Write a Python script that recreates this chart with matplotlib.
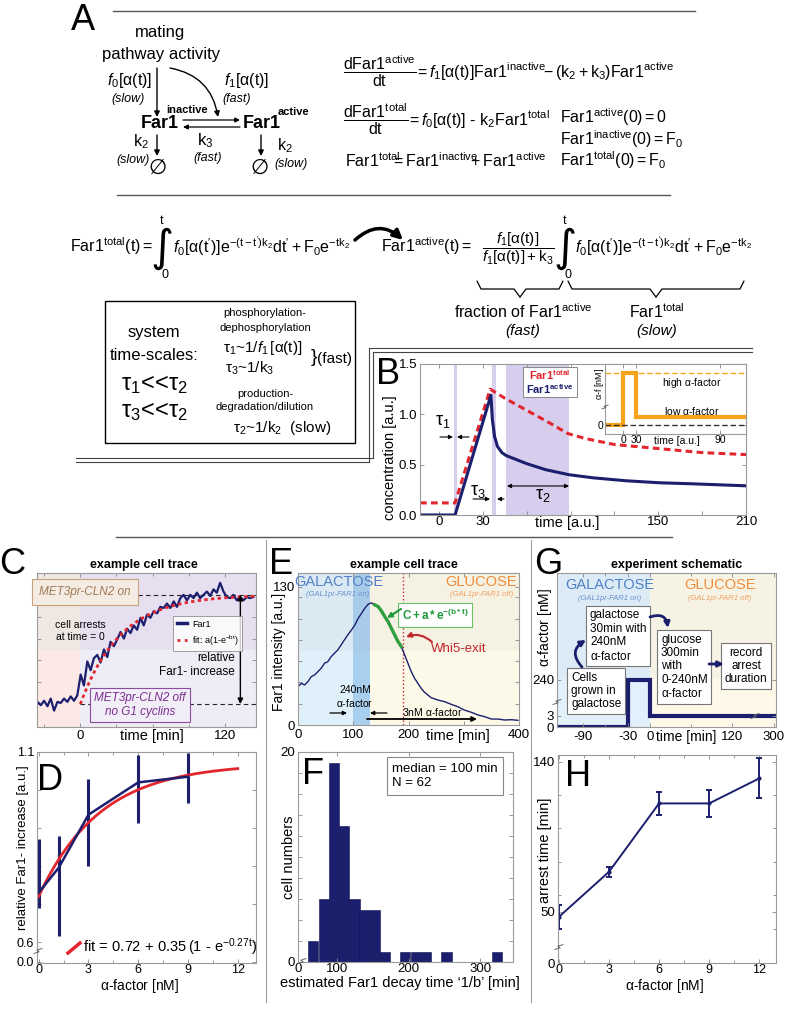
import numpy as np
import matplotlib
matplotlib.use('Agg')
import matplotlib.pyplot as plt
from matplotlib.lines import Line2D
from matplotlib.patches import Rectangle

plt.rcParams['font.family'] = ['Liberation Sans', 'DejaVu Sans']
plt.rcParams['mathtext.fontset'] = 'custom'
plt.rcParams['mathtext.rm'] = 'Liberation Sans'
plt.rcParams['mathtext.it'] = 'Liberation Sans:italic'
plt.rcParams['mathtext.bf'] = 'Liberation Sans:bold'
plt.rcParams['mathtext.default'] = 'regular'

# ---------------- data ----------------
# Panel B (model simulation)
B_t_total = [-13, 11, 35, 45, 60, 75, 88, 100, 120, 150, 180, 210]
B_total = [0.12, 0.12, 1.25, 1.16, 1.04, 0.92, 0.81, 0.76, 0.70, 0.66, 0.62, 0.60]
B_t_active = [-13, 11, 35.5, 36.5, 38, 40, 43, 46, 60, 73, 89, 105, 128, 151, 173, 210]
B_active = [0, 0, 1.19, 0.95, 0.78, 0.68, 0.62, 0.59, 0.51, 0.45, 0.40, 0.37, 0.34, 0.32, 0.31, 0.29]
B_spans = [(10.3, 12.2), (36, 39), (45.7, 88.6)]
B_xticks = [0, 30, 60, 90, 120, 150, 180, 210]
B_xlabels = ['0', '30', '', '', '', '150', '', '210']
inset_edges = [-15, 0, 30, 110]
inset_levels = [0, 1.0, 0.15]
inset_xticks = [0, 30, 90]

# Panel C (example cell trace)
C_time = [-35.6, -32.8, -30.1, -27.3, -24.6, -21.8, -19.0, -16.3, -13.5, -10.8, -8.0, -5.2, -2.5,
          0.3, 3.0, 5.8, 8.6, 11.3, 14.1, 16.8, 19.6, 22.4, 25.1, 27.9, 30.6, 33.4, 36.2, 38.9,
          41.7, 44.4, 47.2, 50.0, 52.7, 55.5, 58.2, 61.0, 63.8, 66.5, 69.3, 72.0, 74.8, 77.6,
          80.3, 83.1, 85.8, 88.6, 91.4, 94.1, 96.9, 99.6, 102.4, 105.2, 107.9, 110.7, 113.4,
          116.2, 119.0, 121.7, 124.5, 127.2, 130.0, 132.8, 135.5, 138.3, 141.0, 143.8]
C_far1 = [0.02, -0.01, 0.03, -0.02, 0.05, -0.06, 0.02, 0.01, 0.05, 0.02, 0.07, 0.03, 0.08,
          0.27, 0.17, 0.39, 0.31, 0.42, 0.45, 0.38, 0.50, 0.43, 0.57, 0.53, 0.59, 0.66,
          0.60, 0.69, 0.65, 0.72, 0.68, 0.79, 0.72, 0.82, 0.79, 0.85, 0.83, 0.89, 0.88,
          0.92, 0.88, 0.94, 0.89, 0.97, 1.00, 0.95, 1.00, 0.97, 1.02, 0.97, 1.00, 1.03,
          0.99, 1.05, 1.02, 1.11, 1.03, 0.98, 0.97, 1.00, 0.95, 0.98, 0.95, 0.98, 0.97, 0.98]
C_fit_a = 1.0
C_fit_b = 0.03

# Panel D (dose response of Far1 increase)
D_alpha = [0, 1.2, 3, 6, 9]
D_mean = [0.73, 0.795, 0.935, 1.02, 1.035]
D_low = [0.69, 0.615, 0.80, 0.913, 0.966]
D_high = [0.87, 0.88, 1.03, 1.092, 1.097]
D_fit_c, D_fit_a, D_fit_k = 0.72, 0.35, 0.27

# Panel E (example trace)
E_time = [0, 6, 12, 18, 24, 30, 36, 42, 48, 54, 60, 66, 72, 78, 84, 90, 97, 103, 109, 115,
          121, 127, 133, 139, 145, 151, 157, 163, 169, 175, 181, 187, 193, 199, 205, 211, 217,
          223, 229, 235, 241, 253, 265, 277, 289, 301, 314, 326, 338, 350, 362, 374, 386, 398]
E_far1 = [36.1, 39.2, 37.7, 40.8, 45.5, 47.1, 50.2, 53.4, 58.1, 59.6, 64.3, 67.5, 70.6, 75.3,
          80.0, 84.7, 89.5, 94.2, 100.4, 105.1, 109.9, 113.6, 114.9, 113.0, 111.4, 107.3,
          102.0, 97.3, 91.0, 84.7, 78.5, 73.8, 65.9, 58.1, 50.2, 43.9, 39.2, 34.5, 30.8,
          28.2, 25.7, 23.5, 22.0, 19.5, 17.3, 14.1, 11.9, 9.4, 7.8, 5.6, 5.6, 4.7, 5.0, 4.4]
E_fit_start, E_whi5 = 139, 190

# Panel F (histogram of decay times)
F_centers = [66, 81, 95, 109, 124, 138, 153, 167, 195, 210, 224, 253, 324]
F_counts = [2, 6, 19, 13, 6, 5, 5, 1, 1, 1, 1, 1, 1]
F_width = 14.5

# Panel G (experiment schedule)
G_edges = [-124, -30, 0, 302]
G_levels = [0, 240, 3]

# Panel H (arrest time)
H_alpha = [0, 3, 6, 9, 12]
H_arrest = [47, 74, 115, 115, 130]
H_err = [7, 3, 7, 8, 12]

navy = '#1b1f6e'
red = '#e3262d'

# ---------------- figure ----------------
W, H = 791, 1011
fig = plt.figure(figsize=(W / 100, H / 100), dpi=100)


def px_axes(l, t, r, b, z=1):
    ax = fig.add_axes([l / W, 1 - b / H, (r - l) / W, (b - t) / H])
    ax.set_zorder(z)
    return ax


def style(ax, ls=8.5):
    ax.tick_params(which='both', direction='in', top=True, right=True, length=3, width=0.6,
                   color='#888888', labelsize=ls, pad=2)
    ax.tick_params(which='minor', length=2)
    for s in ax.spines.values():
        s.set_color('#9a9a9a')
        s.set_linewidth(0.8)


ov = fig.add_axes([0, 0, 1, 1])
ov.set_xlim(0, W)
ov.set_ylim(H, 0)
ov.axis('off')
ov.set_zorder(20)


def T(x, y, s, size=10, ha='center', va='center', **kw):
    return ov.text(x, y, s, fontsize=size, ha=ha, va=va, **kw)


def L(xs, ys, **kw):
    kw.setdefault('color', 'k')
    kw.setdefault('lw', 0.8)
    ov.plot(xs, ys, **kw)


def arrow(x0, y0, x1, y1, rad=0.0, color='k', lw=1.0, style='-|>', ms=8):
    ov.annotate('', xy=(x1, y1), xytext=(x0, y0),
                arrowprops=dict(arrowstyle=style, color=color, lw=lw, mutation_scale=ms,
                                shrinkA=0, shrinkB=0,
                                connectionstyle='arc3,rad=%s' % rad))


def brace(x0, x1, y, h, lw=0.9):
    xm = (x0 + x1) / 2
    q = h / 2
    L([x0, x0 + 4, xm - 6, xm], [y, y + q, y + q, y + h], lw=lw, solid_capstyle='round')
    L([x1, x1 - 4, xm + 6, xm], [y, y + q, y + q, y + h], lw=lw, solid_capstyle='round')


def brk(x, y, s=4):
    L([x - s, x + s * 0.3, x - s * 0.3, x + s], [y + s * 0.6, y + s * 0.2, y - s * 0.2, y - s * 0.6],
      lw=0.7, color='#666666')


# ================= Panel A =================
T(83, 21, 'A', 26)
L([113, 695], [11, 11], color='#555555', lw=1.0)
L([117, 670], [195, 195], color='#555555', lw=1.0)

T(160, 33, 'mating', 12)
T(161, 55, 'pathway activity', 12)
T(130, 80, r'$\mathit{f}_0[\alpha(t)]$', 11.5)
T(128, 99, '(slow)', 9, style='italic')
T(247, 81, r'$\mathit{f}_1[\alpha(t)]$', 11.5)
T(237, 99, '(fast)', 9, style='italic')
arrow(157, 68, 157, 117)
arrow(170, 68, 218, 117, rad=-0.35)
T(160, 124, 'Far1', 13, weight='bold')
T(187, 110, 'inactive', 8, weight='bold')
T(262, 124, 'Far1', 13, weight='bold')
T(293, 112, 'active', 8, weight='bold')
arrow(183, 120, 240, 120, lw=0.9, ms=7)
arrow(240, 127, 183, 127, lw=0.9, ms=7)
T(205, 141, r'$k_3$', 12)
T(208, 158, '(fast)', 9, style='italic')
T(141, 142, r'$k_2$', 11.5)
T(133, 160, '(slow)', 9, style='italic')
arrow(157, 135, 157, 156)
T(157, 168, '\u2205', 15, family=['DejaVu Sans'])
T(285, 146, r'$k_2$', 11.5)
T(291, 164, '(slow)', 9, style='italic')
arrow(261, 135, 261, 156)
T(259, 168, '\u2205', 15, family=['DejaVu Sans'])

eq = 11.5
NEG = r'\!\!\!\!'
T(343, 71, r'$\dfrac{dFar1^{active}}{dt}\!= \mathit{f}_1[\alpha(t)]Far1^{inactive}\!\! - (k_2 + k_3)Far1^{active}$',
  eq, ha='left')
T(343, 119, r'$\dfrac{dFar1^{total}}{dt}\!= \mathit{f}_0[\alpha(t)]$ - $k_2Far1^{total}$', eq, ha='left')
T(345, 161, r'$Far1^{total}' + NEG + r'= Far1^{inactive}' + NEG + r' + Far1^{active}$', eq, ha='left')
T(560, 117, r'$Far1^{active}(0) = 0$', eq, ha='left')
T(560, 139, r'$Far1^{inactive}(0) = F_0$', eq, ha='left')
T(560, 160, r'$Far1^{total}(0) = F_0$', eq, ha='left')

# integral equations
T(153, 246, r'$Far1^{total}(t) = $', 11.5, ha='right')
T(162, 248, '\u222b', 32, family=['DejaVu Sans'])
T(162, 221, 't', 9)
T(165, 275, '0', 9)
T(173, 246, r"$\mathit{f}_0[\alpha(t')]e^{-(t-t')k_2}dt' + F_0e^{-tk_2}$", 11.5, ha='left')
arrow(355, 240, 403, 240, rad=-0.45, lw=2.5, ms=14)
T(472, 246, r'$Far1^{active}(t) = $', 11.5, ha='right')
T(518, 249, r'$\dfrac{\mathit{f}_1[\alpha(t)]}{\mathit{f}_1[\alpha(t)]+k_3}$', 11)
T(565, 248, '\u222b', 32, family=['DejaVu Sans'])
T(565, 221, 't', 9)
T(568, 275, '0', 9)
T(575, 246, r"$\mathit{f}_0[\alpha(t')]e^{-(t-t')k_2}dt' + F_0e^{-tk_2}$", 11.5, ha='left')
brace(477, 563, 281, 16)
brace(568, 744, 281, 16)
T(523, 312, r'fraction of Far1$^{active}$', 11.5)
T(523, 331, '(fast)', 11, style='italic')
T(657, 312, r'Far1$^{total}$', 11.5)
T(657, 331, '(slow)', 11, style='italic')

# time-scale box
ov.add_patch(Rectangle((105, 301), 250, 142, fill=False, ec='k', lw=1.0))
T(154, 333, 'system', 12)
T(154, 355, 'time-scales:', 12)
T(154, 385, r'$\tau_1$<<$\tau_2$', 17)
T(154, 412, r'$\tau_3$<<$\tau_2$', 17)
T(265, 313, 'phosphorylation-', 8)
T(265, 328, 'dephosphorylation', 8)
T(263, 348, r'$\tau_1$~1/$\mathit{f}_1\,[\alpha(t)]$', 11)
T(250, 368, r'$\tau_3$~1/$k_3$', 11)
T(314, 357, '}', 14, color='k')
T(334, 359, '(fast)', 11)
T(265, 394, 'production-', 8)
T(265, 407, 'degradation/dilution', 8)
T(282, 428, r'$\tau_2$~1/$k_2$  (slow)', 11)

# double frame lines
for d in (0, 4):
    L([369 + d, 752], [348 + d, 348 + d], color='#444444', lw=0.8)
    L([369 + d, 369 + d], [348 + d, 462 - d], color='#444444', lw=0.8)
    L([76, 369 + d], [462 - d, 462 - d], color='#444444', lw=0.8)
L([116, 672], [537, 537], color='#555555', lw=1.0)
L([266, 266], [540, 1002], color='#a0a0a0', lw=0.8)
L([531, 531], [540, 1002], color='#a0a0a0', lw=0.8)

# ================= Panel B =================
axB = px_axes(420, 364, 746, 515)
style(axB)
axB.set_xlim(-13, 210)
axB.set_ylim(0, 1.5)
for a, b in B_spans:
    axB.axvspan(a, b, color='#d7cdec', lw=0)
axB.plot(B_t_total, B_total, color=red, lw=2.2, ls=(0, (2.2, 1.4)))
axB.plot(B_t_active, B_active, color=navy, lw=2.2)
axB.set_xticks(B_xticks)
axB.set_xticklabels(B_xlabels)
axB.set_yticks([0, 0.5, 1.0, 1.5])
axB.set_yticklabels(['0.0', '0.5', '1.0', '1.5'])
axB.tick_params(axis='x', pad=1, labelsize=9.5)
axB.tick_params(axis='y', labelsize=9.5)
T(567, 523, 'time [a.u.]', 10.5)
T(390, 458, 'concentration [a.u.]', 10.5, rotation=90)
T(388, 374, 'B', 26)
ov.add_patch(Rectangle((523, 367), 54, 30, fc='white', ec='#888888', lw=0.7))
T(550, 375, r'Far1$^{\mathbf{total}}$', 8, color=red, weight='bold')
T(550, 389, r'Far1$^{\mathbf{active}}$', 8, color=navy, weight='bold')
T(443, 422, r'$\tau_1$', 13)
arrow(440, 437, 453, 437, lw=0.8, ms=6)
arrow(469, 437, 457, 437, lw=0.8, ms=6)
T(478, 492, r'$\tau_3$', 13)
arrow(473, 499, 490, 499, lw=0.8, ms=6)
arrow(504, 499, 497, 499, lw=0.8, ms=6)
T(543, 496, r'$\tau_2$', 13)
arrow(507, 486, 569, 486, lw=0.8, ms=6, style='<|-|>')

# inset: schematic (non-uniform) time axis
ix_d = [-1000, 0, 30, 90, 1000]
ix_p = [-1200, 0, 13, 97, 97 + 910 * 1.42]
axI = px_axes(605, 364, 746, 434, z=3)
style(axI, 7.5)
axI.set_xscale('function', functions=(lambda v: np.interp(v, ix_d, ix_p), lambda v: np.interp(v, ix_p, ix_d)))
axI.set_xlim(-15, 108)
axI.set_ylim(-0.17, 1.17)
axI.axhline(1.0, color='#f5a623', lw=1.0, ls=(0, (4, 2)))
axI.axhline(0, color='#333333', lw=1.0, ls=(0, (4, 2)))
axI.stairs(inset_levels, inset_edges, baseline=None, color='#f7a21b', lw=3)
axI.set_xticks(inset_xticks)
axI.set_xticks([], minor=True)
axI.set_yticks([0])
axI.tick_params(pad=1)
T(692, 383, r'high $\alpha$-factor', 7.5)
T(692, 411, r'low $\alpha$-factor', 7.5)
T(677, 441, 'time [a.u.]', 7.5)
T(599, 384, r'$\alpha$-f [nM]', 6.5, rotation=90)
brk(605, 407, 3)

# ================= Panel C =================
axC = px_axes(37, 573, 256, 727)
style(axC)
axC.set_xlim(-36, 146)
axC.set_ylim(-0.21, 1.2)
axC.axvspan(-36, 0, ymin=0.5, ymax=1, color='#efe7e2', lw=0)
axC.axvspan(-36, 0, ymin=0, ymax=0.5, color='#fce9e6', lw=0)
axC.axvspan(0, 146, ymin=0.5, ymax=1, color='#e6dff0', lw=0)
axC.axvspan(0, 146, ymin=0, ymax=0.5, color='#eeedf5', lw=0)
axC.hlines(1.0, 41, 146, colors='#222222', linestyles=(0, (4, 3)), lw=0.8)
axC.hlines(0.0, 0, 146, colors='#222222', linestyles=(0, (4, 3)), lw=0.8)
axC.plot(C_time, C_far1, color=navy, lw=1.6)
t_fit = np.linspace(0, 146, 200)
axC.plot(t_fit, C_fit_a * (1 - np.exp(-C_fit_b * t_fit)), color=red, lw=2, ls=(0, (1.2, 1.2)))
axC.annotate('', xy=(133, 0.0), xytext=(133, 1.0),
             arrowprops=dict(arrowstyle='<|-|>', color='k', lw=1, mutation_scale=8, shrinkA=0, shrinkB=0))
axC.set_xticks([0, 120])
axC.set_xticks([-30, 30, 60, 90], minor=True)
axC.set_yticks([0, 0.2, 0.4, 0.6, 0.8, 1.0])
axC.set_yticklabels([])
axC.tick_params(axis='x', labelsize=9.5)
leg = axC.legend(handles=[Line2D([], [], color=navy, lw=2.5), Line2D([], [], color=red, lw=2, ls=':')],
                 labels=['Far1', r'fit: a(1-e$^{-bt}$)'], loc='upper left', bbox_to_anchor=(0.6, 0.75),
                 fontsize=6.5, frameon=True, fancybox=False, edgecolor='#888888', handlelength=1.2,
                 borderpad=0.4, labelspacing=0.5, handletextpad=0.5)
leg.get_frame().set_linewidth(0.7)
T(152, 736, 'time [min]', 10.5)
T(144, 565, 'example cell trace', 9, weight='bold')
T(12, 565, 'C', 26)
T(85, 592, 'MET3pr-CLN2 on', 8.5, style='italic', color='#a07a55',
  bbox=dict(boxstyle='square,pad=0.6', fc='#f4ebe3', ec='#c9a27e', lw=0.8))
T(80, 631, 'cell arrests\nat time = 0', 7.5, linespacing=1.2)
T(235, 665, 'relative\nFar1- increase', 8.5, ha='right', linespacing=1.3)
T(140, 705, 'MET3pr-CLN2 off\nno G1 cyclins', 8.5, style='italic', color='#7b2d8e', linespacing=1.2,
  bbox=dict(boxstyle='square,pad=0.35', fc='#f1eef8', ec='#8a4d9e', lw=0.8))

# ================= Panel D =================
axD = px_axes(37, 752, 256, 963)
style(axD)
axD.set_xlim(-0.1, 13.1)
axD.set_ylim(0.545, 1.1)
D_mean_a = np.array(D_mean)
axD.errorbar(D_alpha, D_mean, yerr=[D_mean_a - np.array(D_low), np.array(D_high) - D_mean_a],
             color=navy, lw=1.8, elinewidth=2.2, capsize=0)
xf = np.linspace(0, 12, 200)
axD.plot(xf, D_fit_c + D_fit_a * (1 - np.exp(-D_fit_k * xf)), color=red, lw=2)
axD.set_xticks([0, 3, 6, 9, 12])
axD.set_xticks([1.5, 4.5, 7.5, 10.5], minor=True)
axD.set_yticks([0.548, 0.6, 0.7, 0.8, 0.9, 1.0, 1.1])
axD.set_yticklabels(['0.0', '0.6', '', '', '', '', '1.1'])
axD.tick_params(axis='x', labelsize=9, pad=0.5)
axD.tick_params(axis='y', labelsize=9)
T(50, 780, 'D', 26)
L([68, 80], [953, 943], color=red, lw=2.5)
T(83, 947, r'fit$\,=\,$0.72$\,+\,$0.35$\,($1 - e$^{-0.27t}$$)$', 10.5, ha='left')
T(23, 848, 'relative Far1- increase [a.u.]', 9.5, rotation=90)
T(140, 986, r'$\alpha$-factor [nM]', 10)
brk(38, 951)

# ================= Panel E =================
axE = px_axes(298, 573, 519, 725)
style(axE)
axE.set_xlim(0, 400)
axE.set_ylim(0, 143)
axE.axvspan(0, 100, color='#e0f0fa', lw=0)
axE.axvspan(100, 130, color='#a9cfee', lw=0)
axE.axvspan(130, 400, color='#fdf9e9', lw=0)
axE.axhspan(70, 143, color='#9a9a9a', alpha=0.07, lw=0)
axE.axvline(E_whi5, color='#c0272d', ls=':', lw=1)
axE.plot(E_time, E_far1, color=navy, lw=1.0)
Et = np.array(E_time)
Ef = np.array(E_far1)
sel = (Et >= E_fit_start) & (Et <= E_whi5 + 1)
axE.plot(Et[sel], Ef[sel], color='#2e9e3e', lw=2.4)
axE.set_xticks([0, 100, 200, 300, 400])
axE.set_xticklabels(['0', '100', '200', '', '400'])
axE.set_yticks([0, 20, 40, 60, 80, 100, 120, 130])
axE.set_yticklabels(['0', '', '', '', '', '', '', '130'])
axE.tick_params(axis='x', labelsize=9.5, pad=3)
axE.tick_params(axis='y', labelsize=9.5)
T(458, 736, 'time [min]', 10.5)
T(404, 565, 'example cell trace', 9, weight='bold')
T(281, 565, 'E', 26)
T(279, 652, 'Far1 intensity [a.u.]', 10, rotation=90)
T(339, 582, 'GALACTOSE', 10.5, color='#4f7fc4')
T(338, 595, '(GAL1pr-FAR1 on)', 5.5, style='italic', color='#6a93cf')
T(481, 582, 'GLUCOSE', 10.5, color='#f08c3a')
T(482, 595, '(GAL1pr-FAR1 off)', 5.5, style='italic', color='#f0a060')
T(435, 615, r'$\mathbf{C + a*e^{-(b*t)}}$', 8.5, color='#1e9a3a',
  bbox=dict(boxstyle='square,pad=0.35', fc='white', ec='#66c066', lw=0.8))
arrow(401, 609, 387, 618, color='#1e9a3a', lw=1.5, ms=7)
T(459, 649, 'Whi5-exit', 9.5, color='#c0272d')
arrow(432, 642, 406, 637, rad=0.3, color='#c0272d', lw=1.5, ms=7)
T(355, 697, '240nM\n' + r'$\alpha$-factor', 7.5, linespacing=1.2)
arrow(330, 713, 347, 713, lw=0.9, ms=6)
arrow(387, 713, 370, 713, lw=0.9, ms=6)
arrow(367, 719, 477, 719, lw=1.3, ms=7)
T(432, 712, r'3nM $\alpha$-factor', 7.5)

# ================= Panel F =================
axF = px_axes(298, 752, 513, 962)
style(axF)
axF.bar(F_centers, F_counts, width=F_width, color=navy, edgecolor='#0b1150', lw=0.4)
axF.set_xlim(45, 346)
axF.set_ylim(0, 20)
axF.set_xticks([45.5, 100, 200, 300])
axF.set_xticklabels(['0', '100', '200', '300'])
axF.set_yticks(np.arange(0, 21, 2))
axF.set_yticklabels(['0'] + [''] * 9 + ['20'])
axF.tick_params(axis='x', labelsize=9.5, pad=1)
axF.tick_params(axis='y', labelsize=9.5)
T(313, 775, 'F', 26)
T(392, 776, 'median = 100 min\nN = 62', 9.5, ha='left', linespacing=1.3,
  bbox=dict(boxstyle='square,pad=0.4', fc='white', ec='#888888', lw=0.8))
T(289, 857, 'cell numbers', 10.5, rotation=90)
T(400, 983, 'estimated Far1 decay time \u20181/b\u2019 [min]', 10.5)
brk(302, 961)

# ================= Panel G =================
gx_d = [-1000, 0, 120, 300, 1000]
gx_p = [-756, 0, 82, 124, 824]
gy_d = [0, 3, 240, 3000]
gy_p = [0, 11, 47, 323]
axG = px_axes(557, 573, 776, 727)
style(axG)
axG.set_xscale('function', functions=(lambda v: np.interp(v, gx_d, gx_p), lambda v: np.interp(v, gx_p, gx_d)))
axG.set_yscale('function', functions=(lambda v: np.interp(v, gy_d, gy_p), lambda v: np.interp(v, gy_p, gy_d)))
axG.set_xlim(-124, 302)
axG.set_ylim(0, 1310)
axG.axvspan(-124, 0, color='#e1f0fa', lw=0)
axG.axvspan(0, 302, color='#fdf8e8', lw=0)
axG.axhspan(250, 1310, color='#8899aa', alpha=0.05, lw=0)
axG.stairs(G_levels, G_edges, baseline=None, color=navy, lw=3)
axG.set_xticks([-90, -30, 0, 120, 300])
axG.set_xticklabels(['-90', '-30', '0', '120', '300'])
axG.set_xticks([-60, 60], minor=True)
axG.set_yticks([0, 3, 240])
axG.set_yticks([], minor=True)
axG.tick_params(axis='x', labelsize=9.5, pad=3)
axG.tick_params(axis='y', labelsize=9.5)
T(686, 737, 'time [min]', 10)
T(677, 565, 'experiment schematic', 9, weight='bold')
T(548, 565, 'G', 26)
T(545, 627, r'$\alpha$-factor [nM]', 10, rotation=90)
T(610, 585, 'GALACTOSE', 10.5, color='#4f7fc4')
T(610, 598, '(GAL1pr-FAR1 on)', 5.5, style='italic', color='#6a93cf')
T(720, 585, 'GLUCOSE', 10.5, color='#f08c3a')
T(720, 598, '(GAL1pr-FAR1 off)', 5.5, style='italic', color='#f0a060')
bx = dict(boxstyle='square,pad=0.3', fc='white', ec='#777777', lw=0.8)
T(571, 691, 'Cells\ngrown in\ngalactose', 8.5, ha='left', linespacing=1.15, bbox=bx)
T(590, 636, 'galactose\n30min with\n240nM\n' + r'$\alpha$-factor', 8.5, ha='left', linespacing=1.15, bbox=bx)
T(661, 667, 'glucose\n300min\nwith\n0-240nM\n' + r'$\alpha$-factor', 8.5, ha='left', linespacing=1.15, bbox=bx)
T(746, 666, 'record\narrest\nduration', 8.5, linespacing=1.15, bbox=bx)
arrow(582, 667, 586, 640, rad=-0.6, color=navy, lw=2, ms=8)
arrow(650, 617, 668, 628, rad=-0.6, color=navy, lw=2, ms=8)
arrow(709, 664, 724, 664, color=navy, lw=2, ms=8)
brk(557, 702)
brk(755, 716)

# ================= Panel H =================
hy_d = [0, 29, 1000]
hy_p = [0, 16, 16 + 971 * 1.667]
axH = px_axes(558, 755, 776, 963)
style(axH)
axH.set_yscale('function', functions=(lambda v: np.interp(v, hy_d, hy_p), lambda v: np.interp(v, hy_p, hy_d)))
axH.set_xlim(-0.05, 13.0)
axH.set_ylim(0, 144)
axH.errorbar(H_alpha, H_arrest, yerr=H_err, color=navy, lw=1.4, marker='.', ms=4, capsize=2.5,
             elinewidth=1.4, capthick=1.4)
axH.set_xticks([0, 3, 6, 9, 12])
axH.set_xticks([1.5, 4.5, 7.5, 10.5], minor=True)
axH.set_yticks([0, 50, 140])
axH.set_yticks([40, 60, 80, 100, 120], minor=True)
axH.tick_params(axis='x', labelsize=9, pad=0.5)
axH.tick_params(axis='y', labelsize=9.5)
T(578, 777, 'H', 26)
T(545, 850, 'arrest time [min]', 10.5, rotation=90)
T(665, 986, r'$\alpha$-factor [nM]', 10)
brk(559, 947)

fig.savefig('out.png', dpi=100)
